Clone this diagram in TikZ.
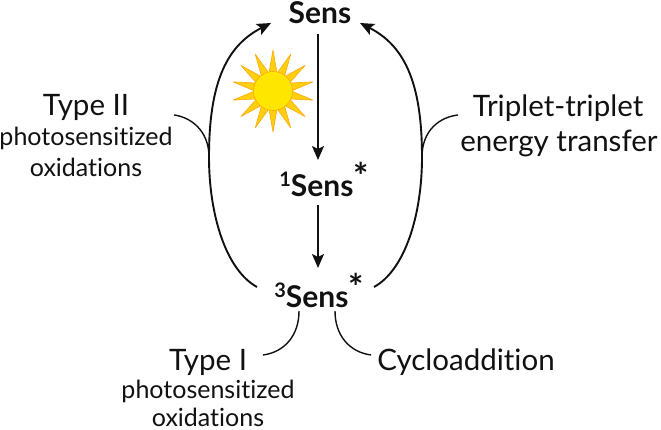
\documentclass[tikz,border=0pt]{standalone}
\usepackage{fontspec}
\usepackage{tikz}
\usetikzlibrary{arrows.meta, positioning, calc}
\setmainfont{Lato}[Ligatures=NoCommon]
\definecolor{ink}{HTML}{111111}
\definecolor{sunfill}{HTML}{FFE600}
\definecolor{rayfill}{HTML}{FFCF10}
\definecolor{sunedge}{HTML}{FFA90A}
\tikzset{
  species/.style={font=\fontsize{30}{30}\selectfont\bfseries, text=ink, inner sep=0pt},
  bigtext/.style={font=\fontsize{29.5}{29.5}\selectfont, text=ink, inner sep=0pt, align=center},
  smalltext/.style={font=\fontsize{25}{25}\selectfont, text=ink, inner sep=0pt, align=center},
  reaction/.style={-{Stealth[length=14pt,width=12pt,inset=3pt]}, line width=1.9pt, color=ink},
  branch/.style={line width=1.4pt, color=ink},
}
\newcommand{\starmark}{\raisebox{7pt}{\fontsize{36}{36}\selectfont *}}
\newcommand{\levelmark}[1]{\raisebox{10pt}{\fontsize{20}{20}\selectfont #1}}
\begin{document}
\begin{tikzpicture}[x=1pt,y=-1pt]
\useasboundingbox (0,0) rectangle (661,430);
% species
\node[species] (sens) at (320,13) {Sens};
\node[species] (singlet) at (324,179) {\levelmark{1}Sens\starmark};
\node[species] (triplet) at (319,290) {\levelmark{3}Sens\starmark};
% labels
\node[bigtext] (typetwo) at (86,107) {Type II};
\node[smalltext] (typetwoa) at (86,138) {photosensitized};
\node[smalltext] (typetwob) at (86,167) {oxidations};
\node[bigtext] (ttet) at (558,108) {Triplet-triplet};
\node[bigtext] (ttetb) at (559,143) {energy transfer};
\node[bigtext] (typeone) at (208,362) {Type I};
\node[smalltext] (typeonea) at (208,391) {photosensitized};
\node[smalltext] (typeoneb) at (208,417) {oxidations};
\node[bigtext] (cyclo) at (466,362) {Cycloaddition};
% ends of the curves
\coordinate (leftlow) at (257,287);
\coordinate (leftmid) at (209,157);
\coordinate (lefttop) at (271,23);
\coordinate (rightlow) at (374,287);
\coordinate (rightmid) at (422,157);
\coordinate (righttop) at (360,23);
\coordinate (twoend) at (174,115);
\coordinate (ttetend) at (458,115);
\coordinate (oneup) at (299,311);
\coordinate (onelow) at (263,355);
\coordinate (cycup) at (335,311);
\coordinate (cyclow) at (371,355);
% arrows
\draw[reaction] (318,34) -- (318,160);
\draw[reaction] (318,205) -- (318,268);
\draw[reaction] (leftlow) .. controls (226,270) and (209,215) .. (leftmid) .. controls (209,80) and (228,45) .. (lefttop);
\draw[reaction] (rightlow) .. controls (405,270) and (422,215) .. (rightmid) .. controls (422,80) and (403,45) .. (righttop);
\draw[branch] (twoend) .. controls (190,117) and (209,130) .. (leftmid);
\draw[branch] (ttetend) .. controls (440,117) and (422,130) .. (rightmid);
\draw[branch] (oneup) .. controls (299,335) and (285,352) .. (onelow);
\draw[branch] (cycup) .. controls (335,335) and (349,352) .. (cyclow);
% sun
\foreach \a in {0,...,13} {
  \filldraw[fill=rayfill, draw=sunedge, line width=0.6pt, line join=round]
    ({273+19*cos(90+\a*25.714-12)},{91+19*sin(90+\a*25.714-12)})
    -- ({273+41*cos(90+\a*25.714)},{91+41*sin(90+\a*25.714)})
    -- ({273+19*cos(90+\a*25.714+12)},{91+19*sin(90+\a*25.714+12)}) -- cycle;
}
\filldraw[fill=sunfill, draw=sunedge, line width=0.6pt] (273,91) circle (19.5);
\end{tikzpicture}
\end{document}
